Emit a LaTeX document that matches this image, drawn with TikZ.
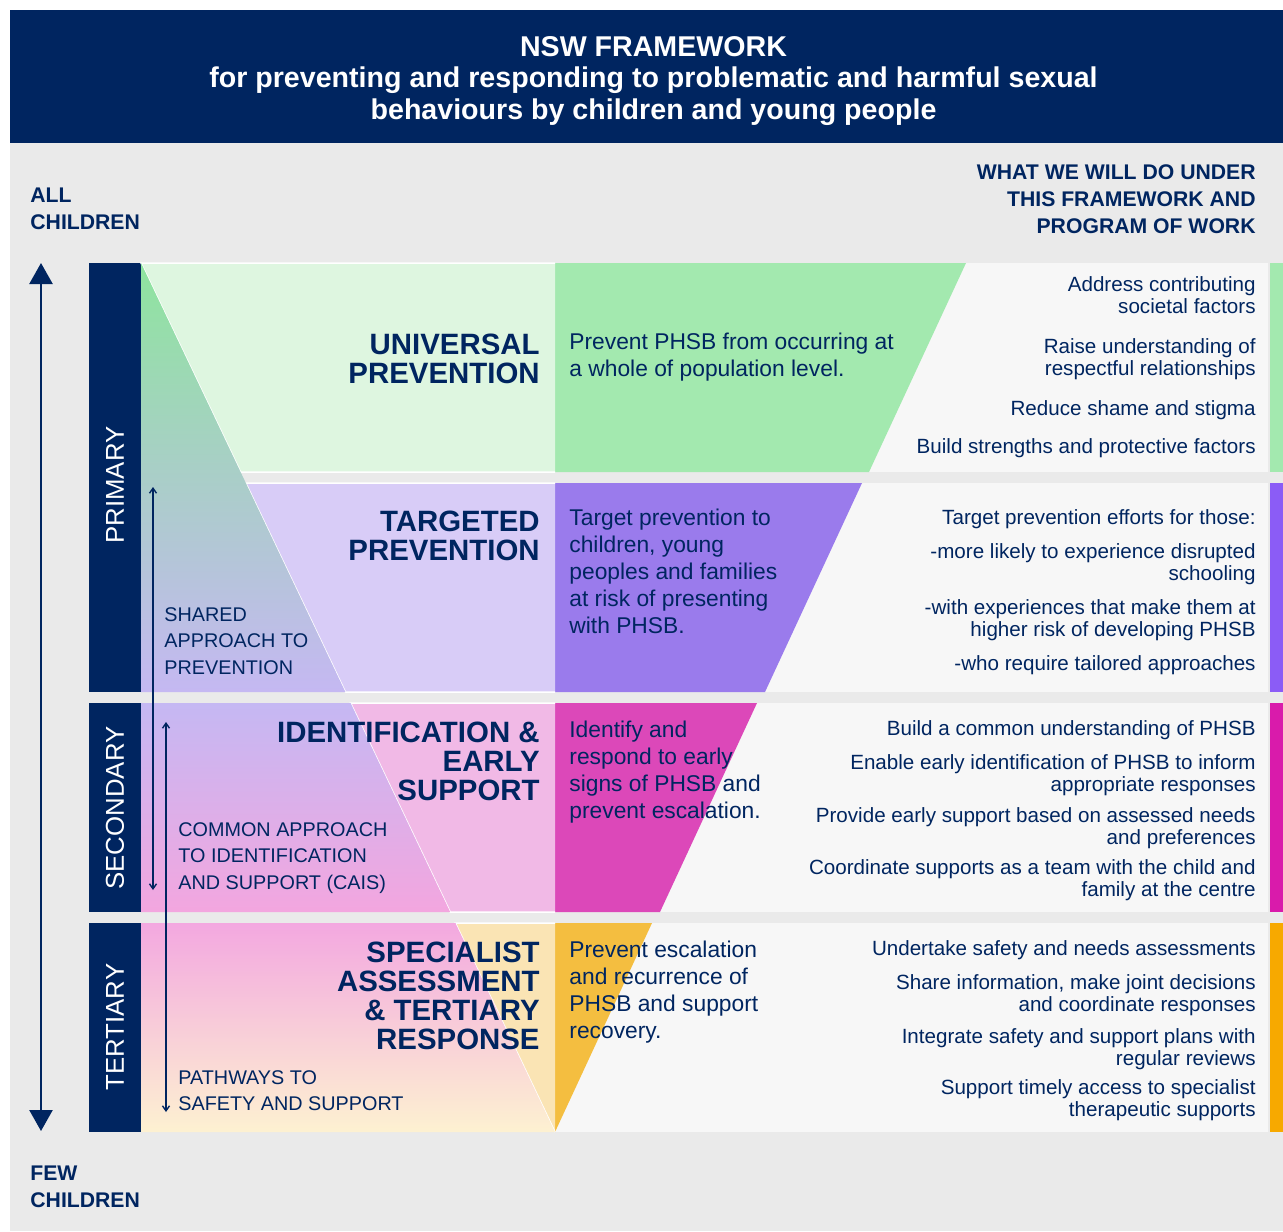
\documentclass[tikz,border=0pt]{standalone}
\usepackage{fontspec}
\setmainfont{Liberation Sans}
\usetikzlibrary{arrows.meta}

\definecolor{nswnavy}{RGB}{0,37,96}
\definecolor{bggrey}{RGB}{234,234,234}
\definecolor{paper}{RGB}{247,247,247}

\begin{document}
\begin{tikzpicture}[x=0.5pt,y=-0.5pt,
    rightitem/.style={anchor=north east, align=right, inner sep=0pt, text=nswnavy,
        font=\fontsize{10.3}{11}\selectfont},
    midtext/.style={anchor=north west, align=left, inner sep=0pt, text=nswnavy,
        font=\fontsize{11.4}{13.5}\selectfont},
    tierhead/.style={anchor=north east, align=right, inner sep=0pt, text=nswnavy,
        font=\bfseries\fontsize{14.7}{14.5}\selectfont},
    approach/.style={anchor=north west, align=left, inner sep=0pt, text=nswnavy,
        font=\fontsize{9.9}{13.25}\selectfont},
    corner/.style={inner sep=0pt, text=nswnavy, font=\bfseries\fontsize{10.6}{13.5}\selectfont},
    tierlabel/.style={rotate=90, inner sep=0pt, text=white, font=\fontsize{12.9}{14}\selectfont},
    celledge/.style={draw=white, line width=0.75pt},
    bigarrow/.style={draw=nswnavy, line width=1.2pt, {Triangle[width=11.5pt,length=10.5pt]}-{Triangle[width=11.5pt,length=10.5pt]}},
    thinarrow/.style={draw=nswnavy, line width=0.7pt, {Straight Barb[width=3.5pt,length=2.5pt]}-{Straight Barb[width=3.5pt,length=2.5pt]}}]

    \useasboundingbox[fill=white] (0,0) rectangle (1283,1231);
    \fill[bggrey] (10,143) rectangle (1283,1231);
    \fill[nswnavy] (10,10) rectangle (1283,143);

    % tier bars
    \fill[nswnavy] (89,263) rectangle (141,692);
    \fill[nswnavy] (89,703) rectangle (141,912);
    \fill[nswnavy] (89,923) rectangle (141,1132);

    % right hand panels
    \fill[paper] (555,263) rectangle (1268,472);
    \fill[paper] (555,483) rectangle (1268,692);
    \fill[paper] (555,703) rectangle (1268,912);
    \fill[paper] (555,923) rectangle (1268,1132);
    \fill[color={rgb,255:red,163; green,233; blue,175}] (1270,263) rectangle (1283,472);
    \fill[color={rgb,255:red,139; green,92; blue,246}] (1270,483) rectangle (1283,692);
    \fill[color={rgb,255:red,217; green,27; blue,171}] (1270,703) rectangle (1283,912);
    \fill[color={rgb,255:red,247; green,169; blue,0}] (1270,923) rectangle (1283,1132);

    % middle wedge
    \fill[color={rgb,255:red,163; green,233; blue,175}] (555,263) -- (966,263) -- (869,472) -- (555,472) -- cycle;
    \fill[color={rgb,255:red,154; green,123; blue,236}] (555,483) -- (862,483) -- (765,692) -- (555,692) -- cycle;
    \fill[color={rgb,255:red,220; green,72; blue,185}] (555,703) -- (757,703) -- (660,912) -- (555,912) -- cycle;
    \fill[color={rgb,255:red,244; green,190; blue,64}] (555,923) -- (652,923) -- (555,1132) -- cycle;

    % light cells
    \fill[color={rgb,255:red,222; green,246; blue,224}] (141,263) -- (555,263) -- (555,472) -- (240.6,472) -- cycle;
    \fill[color={rgb,255:red,216; green,204; blue,247}] (245.8,483) -- (555,483) -- (555,692) -- (345.4,692) -- cycle;
    \fill[color={rgb,255:red,241; green,185; blue,230}] (350.6,703) -- (555,703) -- (555,912) -- (450.2,912) -- cycle;
    \fill[color={rgb,255:red,250; green,228; blue,180}] (455.4,923) -- (555,923) -- (555,1132) -- cycle;
    \draw[celledge] (555,263) -- (141,263) -- (240.6,472) -- (555,472);
    \draw[celledge] (555,483) -- (245.8,483) -- (345.4,692) -- (555,692);
    \draw[celledge] (555,703) -- (350.6,703) -- (450.2,912) -- (555,912);
    \draw[celledge] (555,923) -- (455.4,923) -- (555,1132);

    % shared approach shading
    \shade[top color={rgb,255:red,142; green,228; blue,158}, bottom color={rgb,255:red,197; green,184; blue,242}]
        (141,263) -- (345.4,692) -- (141,692) -- cycle;
    \shade[top color={rgb,255:red,197; green,184; blue,243}, middle color={rgb,255:red,232; green,170; blue,229},
        bottom color={rgb,255:red,243; green,166; blue,223}]
        (141,703) -- (350.6,703) -- (450.2,912) -- (141,912) -- cycle;
    \shade[top color={rgb,255:red,243; green,168; blue,224}, middle color={rgb,255:red,252; green,233; blue,213},
        bottom color={rgb,255:red,253; green,241; blue,209}]
        (141,923) -- (455.4,923) -- (555,1132) -- (141,1132) -- cycle;

    % arrows
    \coordinate (allTop) at (41,263);
    \coordinate (fewBot) at (41,1131);
    \draw[bigarrow] (allTop) -- (fewBot);
    \coordinate (sharedTop) at (153,487);
    \coordinate (sharedBot) at (153,890);
    \draw[thinarrow] (sharedTop) -- (sharedBot);
    \coordinate (caisTop) at (166,722);
    \coordinate (caisBot) at (166,1112);
    \draw[thinarrow] (caisTop) -- (caisBot);

    % header
    \node[anchor=north, align=center, inner sep=0pt, text=white, font=\bfseries\fontsize{14.3}{15.75}\selectfont] (title) at (653.5,36)
        {NSW FRAMEWORK\\for preventing and responding to problematic and harmful sexual\\behaviours by children and young people};
    \node[corner, anchor=north west, align=left] (allKids) at (30,187.5) {ALL\\CHILDREN};
    \node[corner, anchor=north west, align=left] (fewKids) at (30,1165.5) {FEW\\CHILDREN};
    \node[corner, anchor=north east, align=right] (whatWe) at (1256,164.5) {WHAT WE WILL DO UNDER\\THIS FRAMEWORK AND\\PROGRAM OF WORK};

    % tier labels
    \node[tierlabel] (primary) at (115,485) {PRIMARY};
    \node[tierlabel] (secondary) at (115,808) {SECONDARY};
    \node[tierlabel] (tertiary) at (115,1027) {TERTIARY};

    \node[approach] (shared) at (164,607) {SHARED\\APPROACH TO\\PREVENTION};
    \node[approach] (cais) at (178,822) {COMMON APPROACH\\TO IDENTIFICATION\\AND SUPPORT (CAIS)};
    \node[approach] (pathways) at (178,1070) {PATHWAYS TO\\SAFETY AND SUPPORT};

    \node[tierhead] (univ) at (540,333.5) {UNIVERSAL\\PREVENTION};
    \node[tierhead] (targ) at (540,510.5) {TARGETED\\PREVENTION};
    \node[tierhead] (ident) at (540,721.5) {IDENTIFICATION \&\\EARLY\\SUPPORT};
    \node[tierhead] (spec) at (540,941.5) {SPECIALIST\\ASSESSMENT\\\& TERTIARY\\RESPONSE};

    \node[midtext] (univAim) at (569,333) {Prevent PHSB from occurring at\\a whole of population level.};
    \node[midtext] (targAim) at (569,509) {Target prevention to\\children, young\\peoples and families\\at risk of presenting\\with PHSB.};
    \node[midtext] (identAim) at (569,721) {Identify and\\respond to early\\signs of PHSB and\\prevent escalation.};
    \node[midtext] (specAim) at (569,941) {Prevent escalation\\and recurrence of\\PHSB and support\\recovery.};

    % what we will do
    \node[rightitem] (u1) at (1256,276.5) {Address contributing\\societal factors};
    \node[rightitem] (u2) at (1256,338.5) {Raise understanding of\\respectful relationships};
    \node[rightitem] (u3) at (1256,400.5) {Reduce shame and stigma};
    \node[rightitem] (u4) at (1256,438.5) {Build strengths and protective factors};

    \node[rightitem] (t1) at (1256,509.5) {Target prevention efforts for those:};
    \node[rightitem] (t2) at (1256,543.5) {-more likely to experience disrupted\\schooling};
    \node[rightitem] (t3) at (1256,599.5) {-with experiences that make them at\\higher risk of developing PHSB};
    \node[rightitem] (t4) at (1256,655.5) {-who require tailored approaches};

    \node[rightitem] (i1) at (1256,720.5) {Build a common understanding of PHSB};
    \node[rightitem] (i2) at (1256,754.5) {Enable early identification of PHSB to inform\\appropriate responses};
    \node[rightitem] (i3) at (1256,807.5) {Provide early support based on assessed needs\\and preferences};
    \node[rightitem] (i4) at (1256,859.5) {Coordinate supports as a team with the child and\\family at the centre};

    \node[rightitem] (s1) at (1256,940.5) {Undertake safety and needs assessments};
    \node[rightitem] (s2) at (1256,974.5) {Share information, make joint decisions\\and coordinate responses};
    \node[rightitem] (s3) at (1256,1028.5) {Integrate safety and support plans with\\regular reviews};
    \node[rightitem] (s4) at (1256,1079.5) {Support timely access to specialist\\therapeutic supports};
\end{tikzpicture}
\end{document}
